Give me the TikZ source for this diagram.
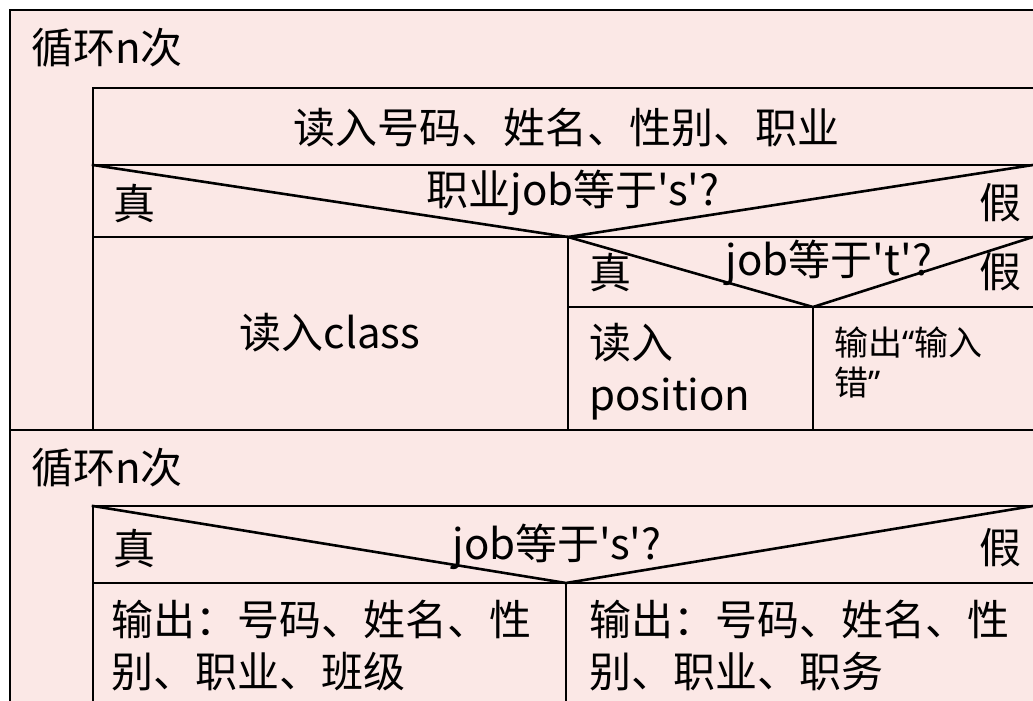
\documentclass[tikz,border=0pt]{standalone}
\usepackage{fontspec}
\setmainfont{Noto Sans CJK SC}[Ligatures=TeXOff]
\newfontfamily\latq{Noto Sans}
\definecolor{bgpink}{RGB}{251,232,230}
\begin{document}
\begin{tikzpicture}[x=1pt,y=-1pt,line width=2.6pt,line cap=rect,
  lbl/.style={inner sep=0pt,font=\fontsize{42}{52}\selectfont},
  multi/.style={lbl,align=left,anchor=west},
  sml/.style={inner sep=0pt,font=\fontsize{34}{40}\selectfont,align=left,anchor=west}]
\useasboundingbox (0,0) rectangle (1033,701);
\clip (0,0) rectangle (1033,701);
\fill[white] (0,0) rectangle (1033,701);
\fill[bgpink] (10,10) rectangle (1050,720);
% corner coordinates
\coordinate (otl) at (10,10);
\coordinate (otr) at (1050,10);
\coordinate (obl) at (10,720);
\coordinate (a0l) at (93,88);   \coordinate (a0r) at (1050,88);
\coordinate (a1l) at (93,165);  \coordinate (a1r) at (1050,165); \coordinate (a1e) at (1033,165);
\coordinate (a2l) at (93,237);  \coordinate (a2r) at (1050,237); \coordinate (a2e) at (1033,237);
\coordinate (v1) at (568,237);
\coordinate (b1l) at (568,307); \coordinate (b1r) at (1050,307);
\coordinate (v2) at (813,307);
\coordinate (v2b) at (813,430);
\coordinate (v1b) at (568,430);
\coordinate (m0l) at (10,430);  \coordinate (m0r) at (1050,430);
\coordinate (a0b) at (93,430);
\coordinate (c0l) at (93,506);  \coordinate (c0r) at (1050,506); \coordinate (c0e) at (1033,506);
\coordinate (c1l) at (93,583);  \coordinate (c1r) at (1050,583);
\coordinate (v3) at (566,583);
\coordinate (v3b) at (566,720);
\coordinate (c0b) at (93,720);
% lines
\draw (otr) -- (otl) -- (obl);
\draw (a0r) -- (a0l) -- (a0b);
\draw (a1l) -- (a1r);
\draw (a1l) -- (v1) -- (a1e);
\draw (a2l) -- (a2r);
\draw (v1) -- (v1b);
\draw (v1) -- (v2) -- (a2e);
\draw (b1l) -- (b1r);
\draw (v2) -- (v2b);
\draw (m0l) -- (m0r);
\draw (c0r) -- (c0l) -- (c0b);
\draw (c0l) -- (v3) -- (c0e);
\draw (c1l) -- (c1r);
\draw (v3) -- (v3b);
% texts
\node[lbl,anchor=west] (loop1) at (30,48) {循环n次};
\node[lbl] (read1) at (566,128) {读入号码、姓名、性别、职业};
\node[lbl] (t1) at (134,203) {真};
\node[lbl] (f1) at (1000,203) {假};
\node[lbl] (q1) at (573,193) {职业job等于's'?};
\node[lbl] (cls) at (330,333) {读入class};
\node[lbl] (t2) at (610,272) {真};
\node[lbl] (f2) at (1000,272) {假};
\node[lbl] (q2) at (829,263) {job等于't'?};
\node[multi] (pos) at (588,372) {读入\\position};
\node[sml] (err) at (833,362) {输出{\latq“}输入\\错{\latq”}};
\node[lbl,anchor=west] (loop2) at (30,468) {循环n次};
\node[lbl] (t3) at (134,548) {真};
\node[lbl] (f3) at (1000,548) {假};
\node[lbl] (q3) at (557,547) {job等于's'?};
\node[multi] (out1) at (110,646) {输出：号码、姓名、性\\别、职业、班级};
\node[multi] (out2) at (588,646) {输出：号码、姓名、性\\别、职业、职务};
\end{tikzpicture}
\end{document}
